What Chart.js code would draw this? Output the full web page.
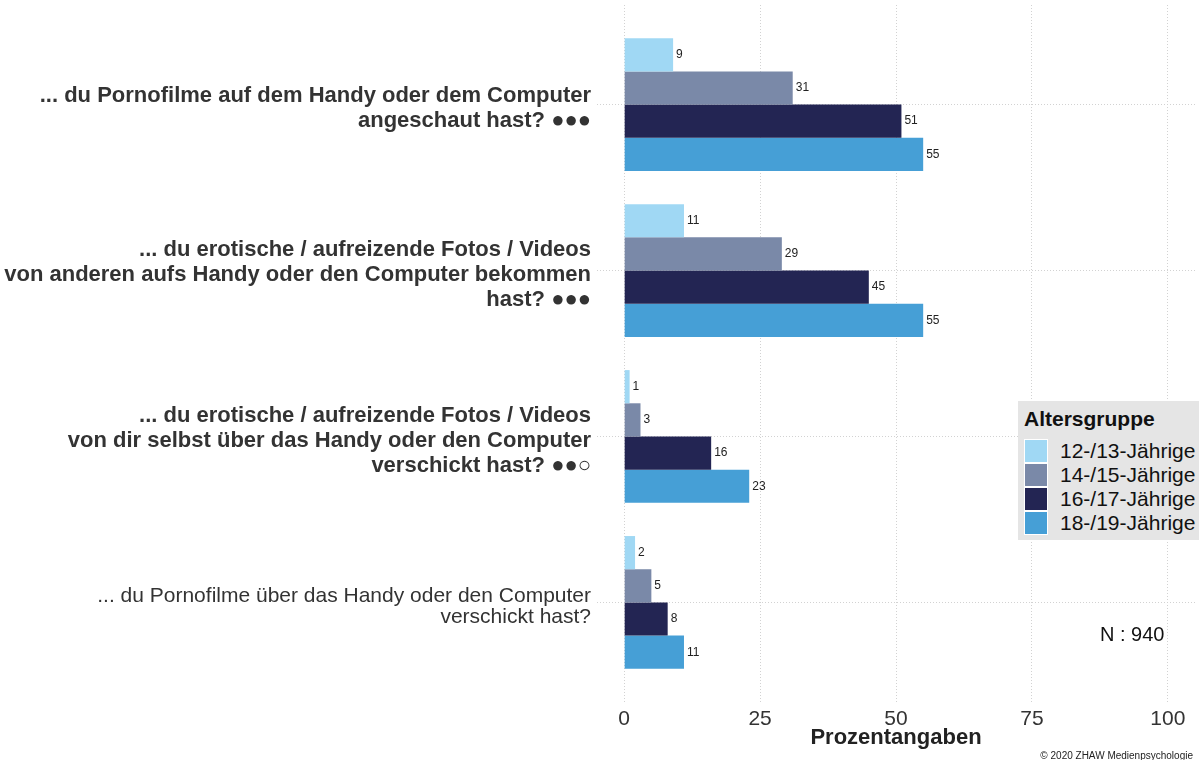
<!DOCTYPE html>
<html>
<head>
<meta charset="utf-8">
<script src="https://cdn.jsdelivr.net/npm/chart.js@4"></script>
<style>
  body { margin:0; background:#fff; font-family:"Liberation Sans", Arial, sans-serif; }
  #wrap { position:relative; width:1199px; height:760px; overflow:hidden; }
  #legend { position:absolute; left:1018px; top:401px; width:181px; height:139px; background:#e5e5e5; box-sizing:border-box; padding:6px 0 0 6px; }
  #legend .title { font-weight:bold; font-size:21px; line-height:24px; color:#111; margin-bottom:8px; }
  #legend .row { display:flex; align-items:center; height:24px; font-size:21px; color:#111; }
  #legend .sw { width:24px; height:24px; margin-right:12px; box-sizing:border-box; border:1px solid #fff; }
  #nlabel { position:absolute; left:1100px; top:623px; font-size:20px; color:#111; }
  #copy { position:absolute; right:6px; top:750px; font-size:10px; color:#222; }
</style>
</head>
<body>
<div id="wrap">
  <canvas id="chart" width="1199" height="760"></canvas>
  <div id="legend"></div>
  <div id="nlabel">N : 940</div>
  <div id="copy">© 2020 ZHAW Medienpsychologie</div>
</div>
<script>
// questions, one array of lines each (top to bottom)
const questions = [
  ["... du Pornofilme auf dem Handy oder dem Computer", "angeschaut hast? ●●●"],
  ["... du erotische / aufreizende Fotos / Videos", "von anderen aufs Handy oder den Computer bekommen", "hast? ●●●"],
  ["... du erotische / aufreizende Fotos / Videos", "von dir selbst über das Handy oder den Computer", "verschickt hast? ●●○"],
  ["... du Pornofilme über das Handy oder den Computer", "verschickt hast?"]
];
const boldQuestion = [true, true, true, false];

const groups = ["12-/13-Jährige", "14-/15-Jährige", "16-/17-Jährige", "18-/19-Jährige"];
const groupColors = ["#a0d8f4", "#7a89a8", "#232553", "#469fd6"];

// percent per question, one array per age group
const age1213 = [9, 11, 1, 2];
const age1415 = [31, 29, 3, 5];
const age1617 = [51, 45, 16, 8];
const age1819 = [55, 55, 23, 11];
const seriesValues = [age1213, age1415, age1617, age1819];

const xTicks = [0, 25, 50, 75, 100];
const xTitle = "Prozentangaben";

const FONT = "'Liberation Sans', Arial, sans-serif";

const datasets = groups.map((g, k) => ({
  label: g,
  data: seriesValues[k].map((v, i) => ({ x: v, y: i })),
  backgroundColor: groupColors[k],
  borderWidth: 0,
  categoryPercentage: 0.8,
  barPercentage: 1.0
}));

// value printed just right of each bar
const barValues = {
  id: "barValues",
  afterDatasetsDraw(chart) {
    const ctx = chart.ctx;
    ctx.save();
    ctx.font = "12px " + FONT;
    ctx.fillStyle = "#222";
    ctx.textAlign = "left";
    ctx.textBaseline = "middle";
    chart.data.datasets.forEach((ds, k) => {
      chart.getDatasetMeta(k).data.forEach((bar, i) => {
        ctx.fillText(String(ds.data[i].x), bar.x + 3, bar.y);
      });
    });
    ctx.restore();
  }
};

const dotted = { color: "#d2d2d2", lineWidth: 1, drawTicks: false, offset: false };
const dottedBorder = { display: false, dash: [1, 2] };

new Chart(document.getElementById("chart"), {
  type: "bar",
  data: { datasets },
  plugins: [barValues],
  options: {
    indexAxis: "y",
    responsive: false,
    animation: false,
    layout: { padding: { top: 5, right: 4, bottom: 9, left: 0 } },
    plugins: { legend: { display: false }, tooltip: { enabled: false } },
    scales: {
      x: {
        type: "linear",
        min: -5,
        max: 105,
        afterBuildTicks: s => { s.ticks = xTicks.map(v => ({ value: v })); },
        afterFit: s => { s.height = 49; s.paddingLeft = 0; s.paddingRight = 0; },
        grid: dotted,
        border: dottedBorder,
        ticks: { color: "#333", padding: 5, font: { size: 21, family: FONT } },
        title: {
          display: true, text: xTitle, color: "#222", padding: { top: 0, bottom: 0 },
          font: { size: 22, weight: "bold", family: FONT }
        }
      },
      y: {
        type: "linear",
        reverse: true,
        offset: false,
        min: -0.6,
        max: 3.6,
        afterBuildTicks: s => { s.ticks = questions.map((q, i) => ({ value: i })); },
        afterFit: s => { s.width = 597; s.paddingTop = 0; s.paddingBottom = 0; },
        grid: dotted,
        border: dottedBorder,
        ticks: {
          color: "#333",
          padding: 6,
          labelOffset: 4,
          callback: v => questions[v],
          font: c => ({
            size: boldQuestion[c.index] ? 22 : 21,
            weight: boldQuestion[c.index] ? "bold" : "normal",
            lineHeight: boldQuestion[c.index] ? "25px" : "21px",
            family: FONT
          })
        }
      }
    }
  }
});

document.getElementById("legend").innerHTML =
  '<div class="title">Altersgruppe</div>' +
  groups.map((g, k) => '<div class="row"><span class="sw" style="background:' + groupColors[k] + '"></span>' + g + '</div>').join("");
</script>
</body>
</html>
